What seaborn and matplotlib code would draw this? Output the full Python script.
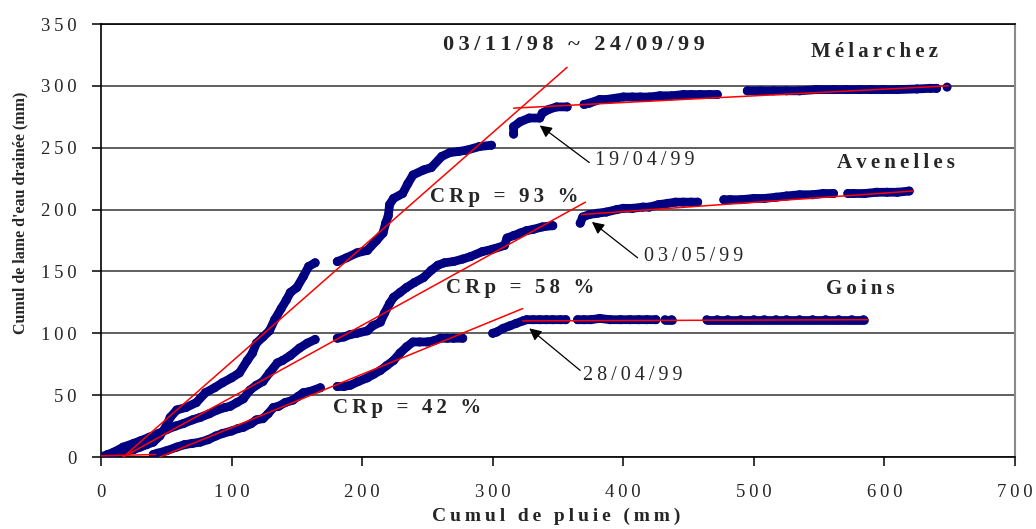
import pandas as pd
import seaborn as sns
import matplotlib.pyplot as plt

# cumul de lame d'eau drainee vs cumul de pluie, 03/11/98 ~ 24/09/99
# each site is stored as runs of dots (the record has gaps)
mel_x = [[0, 5, 10, 15, 20, 25, 30, 35, 40, 45, 50, 53, 58, 65, 73, 80, 87, 93, 100, 106, 112, 116,
          119, 124, 129, 133, 138, 142, 145, 150, 155, 159, 164],
         [181, 188, 196, 204, 211, 216, 218, 220, 221, 224, 231, 235, 239, 247, 253, 261, 267, 274, 280, 290, 299],
         [316, 316, 321, 328, 336, 338, 343, 349, 357],
         [370, 374, 382, 387, 400, 407, 413, 420, 428, 437, 446, 452, 459, 466, 472],
         [495, 505, 515, 525, 535, 548, 561, 571, 581, 590, 599, 610, 625, 635, 640],
         [648]]
mel_y = [[0, 1, 2, 4, 5, 6, 8, 10, 12, 17, 25, 32, 38, 40, 44, 52, 56, 60, 64, 68, 78, 84,
          92, 97, 102, 111, 120, 127, 133, 137, 146, 154, 157],
         [158, 161, 165, 167, 175, 181, 189, 195, 204, 209, 213, 221, 228, 232, 234, 243, 246, 247, 248, 251, 252],
         [261, 267, 271, 274, 274, 278, 281, 283, 283],
         [285, 286, 289, 289, 291, 291, 291, 291, 292, 292, 293, 293, 293, 293, 293],
         [296, 296, 296, 296, 296, 297, 297, 297, 297, 297, 297, 297, 297.5, 298, 298],
         [299]]

ave_x = [[0, 5, 10, 17, 25, 30, 37, 44, 50, 57, 63, 70, 76, 83, 89, 95, 99, 104, 109, 114, 119, 124,
          129, 135, 139, 145, 152, 158, 164],
         [181, 186, 191, 196, 204, 208, 214, 217, 221, 224, 229, 234, 240, 247, 253, 258, 263, 270, 277,
          283, 292, 300, 309, 311, 316, 321, 326, 331, 338, 346],
         [367, 369, 374, 380, 387, 395, 400, 407, 415, 420, 427, 434, 440, 446, 452, 457],
         [477, 482, 490, 500, 508, 517, 525, 535, 545, 553, 561],
         [572, 576, 585, 594, 602, 610, 619]]
ave_y = [[0, 2, 4, 8, 11, 13, 16, 19, 22, 25, 27, 30, 32, 35, 38, 40, 41, 44, 47, 54, 58, 61,
          68, 76, 78, 82, 88, 92, 95],
         [96, 97, 99, 100, 102, 106, 109, 116, 124, 129, 133, 137, 141, 145, 151, 155, 157, 158, 160,
          162, 166, 168, 171, 177, 179, 181, 183, 184, 186, 187],
         [189, 194, 196, 197, 198, 200, 201, 201, 202, 202, 204, 205, 206, 206, 206, 206],
         [208, 208, 208, 209, 209, 210, 211, 212, 212, 213, 213],
         [213, 213, 213, 214, 214, 214, 215]]

goi_x = [[40, 43, 50, 58, 64, 70, 76, 82, 88, 93, 100, 105, 109, 115, 119, 124, 128, 132, 136, 141,
          147, 151, 155, 160, 168],
         [181, 186, 191, 197, 204, 209, 214, 219, 224, 229, 234, 239, 244, 250, 255, 260, 265, 270, 277],
         [300, 303, 308, 313, 318, 323, 326, 331, 336, 341, 346, 352, 356],
         [365, 370, 375, 382, 390, 398, 405, 412, 418, 425],
         [432, 437],
         [464, 472, 480, 490, 500, 508, 517, 525, 535, 545, 555, 565, 575, 584]]
goi_y = [[2, 3, 5, 8, 10, 11, 12, 14, 17, 19, 21, 23, 24, 27, 30, 31, 35, 40, 41, 44,
          46, 49, 52, 53, 56],
         [57, 57, 58, 61, 64, 67, 70, 74, 78, 84, 89, 93, 93, 93, 94, 96, 96, 96, 96],
         [100, 101, 104, 106, 108, 110, 111, 111, 111, 111, 111, 111, 111],
         [111, 111, 111, 112, 111, 111, 111, 111, 111, 111],
         [111, 111],
         [111, 111, 111, 111, 111, 111, 111, 111, 111, 111, 111, 111, 111, 111]]

# red fit lines (start, end)
fit_x = [[17, 357], [316, 649], [17, 371], [368, 622], [45, 323], [323, 587], [0, 42]]
fit_y = [[0, 315], [282, 300], [0, 206], [196, 215], [0, 120], [110, 111], [1, 2]]

sites = ['Mélarchez', 'Avenelles', 'Goins']
site_pos = [(544, 327), (564, 238), (555, 136)]
crp_labels = ['CRp = 93 %', 'CRp = 58 %', 'CRp = 42 %']
crp_pos = [(252, 210), (264, 137), (178, 40)]
dates = ['19/04/99', '03/05/99', '28/04/99']
date_head = [(336, 268), (376, 190), (328, 104)]
date_tail = [(374, 238), (411, 161), (367, 70)]
date_pos = [(378, 240), (416, 162), (369, 66)]

rows = []
for name, xs, ys in [('mel', mel_x, mel_y), ('ave', ave_x, ave_y), ('goi', goi_x, goi_y)]:
    for k, (sx, sy) in enumerate(zip(xs, ys)):
        for a, b in zip(sx, sy):
            rows.append((name + str(k), a, b))
df = pd.DataFrame(rows, columns=['seg', 'pluie', 'lame'])

frows = []
for k, (sx, sy) in enumerate(zip(fit_x, fit_y)):
    for a, b in zip(sx, sy):
        frows.append((k, a, b))
fits = pd.DataFrame(frows, columns=['seg', 'pluie', 'lame'])

sns.set_style('ticks')
plt.rcParams['font.family'] = ['Liberation Serif', 'DejaVu Serif']


def sp(s):
    # fake letter spacing with thin spaces
    return '\u2009'.join(s)


navy = '#000080'
fig = plt.figure(figsize=(10.36, 5.29), dpi=100)
ax = fig.add_axes([0.0975, 0.1361, 0.8822, 0.8185])

sns.lineplot(data=df, x='pluie', y='lame', units='seg', estimator=None, sort=False,
             color=navy, lw=6.3, solid_capstyle='round', ax=ax, zorder=2)
sns.scatterplot(data=df, x='pluie', y='lame', color=navy, s=42, edgecolor='none', ax=ax, zorder=3)
sns.lineplot(data=fits, x='pluie', y='lame', units='seg', estimator=None, sort=False,
             color='red', lw=1.1, ax=ax, zorder=4)

for (hx, hy), (tx, ty) in zip(date_head, date_tail):
    ax.annotate('', xy=(hx, hy), xytext=(tx, ty),
                arrowprops=dict(arrowstyle='-|>', color='black', lw=0.9, mutation_scale=18,
                                shrinkA=0, shrinkB=0), zorder=5)
for txt, (x, y) in zip(dates, date_pos):
    ax.text(x, y, sp(txt), fontsize=14.5, ha='left', va='center')
for txt, (x, y) in zip(sites, site_pos):
    ax.text(x, y, sp(txt), fontsize=15, fontweight='bold', ha='left', va='center')
for txt, (x, y) in zip(crp_labels, crp_pos):
    ax.text(x, y, sp(txt), fontsize=15, fontweight='bold', ha='left', va='center')
ax.text(262, 333, sp('03/11/98 ~ 24/09/99'), fontsize=16, fontweight='bold', ha='left', va='center')

ax.set_xlim(0, 700)
ax.set_ylim(0, 350)
xt = list(range(0, 701, 100))
yt = list(range(0, 351, 50))
ax.set_xticks(xt)
ax.set_yticks(yt)
ax.set_xticklabels([sp(str(v)) for v in xt])
ax.set_yticklabels([sp(str(v)) for v in yt])
ax.tick_params(axis='both', direction='out', length=6.5, width=1.1, color='black', labelsize=13.5)
ax.tick_params(axis='x', pad=13)
ax.tick_params(axis='y', pad=11)

ax.set_axisbelow(True)
ax.yaxis.grid(True, color='#444444', lw=1.2)
ax.xaxis.grid(False)
for side in ['left', 'bottom', 'top']:
    ax.spines[side].set_color('black')
    ax.spines[side].set_linewidth(1.2)
ax.spines['right'].set_color('#8a8a8a')
ax.spines['right'].set_linewidth(1.5)

ax.set_xlabel(sp('Cumul de pluie (mm)'), fontsize=14, fontweight='bold')
ax.set_ylabel("Cumul de lame d'eau drainée (mm)", fontsize=11.5, fontweight='bold')
ax.xaxis.set_label_coords(0.4985, -0.118)
ax.yaxis.set_label_coords(-0.0799, 0.563)

fig.savefig('out.png', dpi=100)
